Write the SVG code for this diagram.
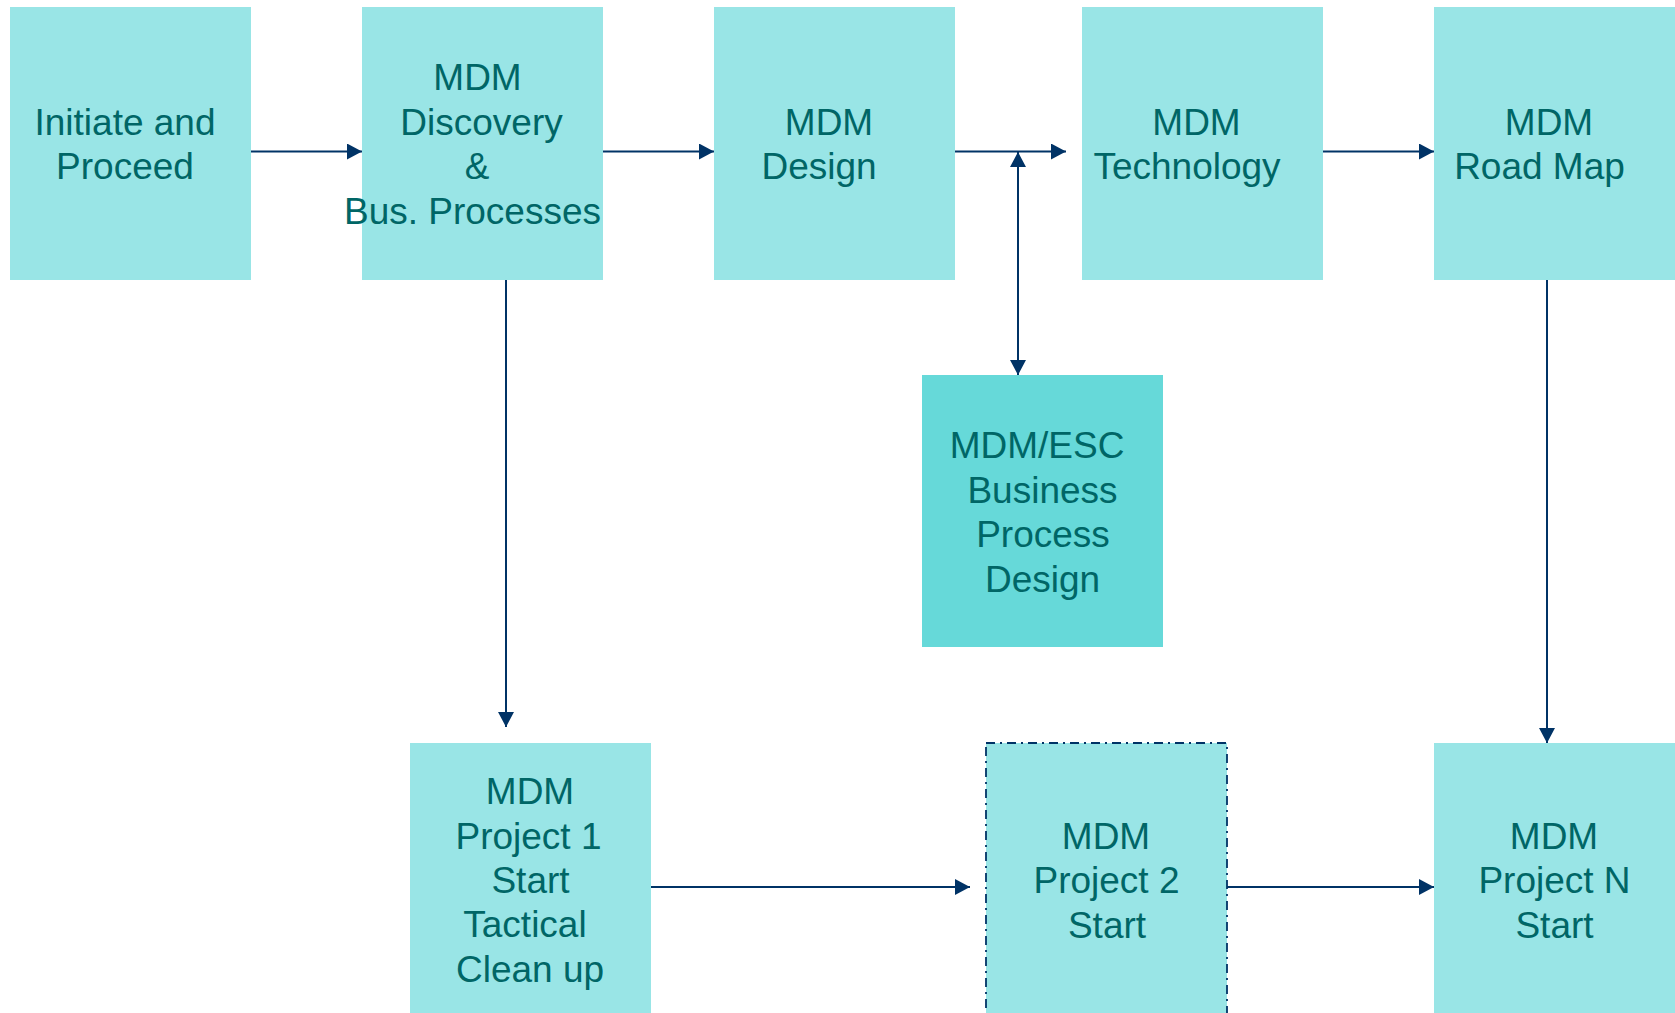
<svg xmlns="http://www.w3.org/2000/svg" width="1675" height="1013" viewBox="0 0 1675 1013">
<style>
.box{fill:#99E5E6;}
.esc{fill:#66D9D9;}
.dash{fill:#99E5E6;stroke:#003366;stroke-width:1.8;stroke-dasharray:9 5 2 5;}
text{font-family:"Liberation Sans",Arial,sans-serif;font-size:37px;fill:#006666;text-anchor:middle;}
.c{stroke:#003366;stroke-width:2;fill:none;}
</style>
<defs>
<marker id="ah" markerUnits="userSpaceOnUse" markerWidth="16" markerHeight="16" refX="15" refY="8" orient="auto-start-reverse" viewBox="0 0 16 16">
<path d="M0,0 L15,8 L0,16 Z" fill="#003366"/>
</marker>
</defs>
<rect width="1675" height="1013" fill="#FFFFFF"/>
<g id="n1"><rect class="box" x="10" y="7" width="241" height="273"/>
<text x="125" y="135">Initiate and</text><text x="125" y="179">Proceed</text></g>
<g id="n2"><rect class="box" x="362" y="7" width="241" height="273"/>
<text x="477.5" y="90">MDM</text><text x="481.5" y="134.5">Discovery</text><text x="477" y="179">&amp;</text><text x="472.5" y="223.5">Bus. Processes</text></g>
<g id="n3"><rect class="box" x="714" y="7" width="241" height="273"/>
<text x="829" y="135">MDM</text><text x="819" y="179">Design</text></g>
<g id="n4"><rect class="box" x="1082" y="7" width="241" height="273"/>
<text x="1196.5" y="135">MDM</text><text x="1187" y="179">Technology</text></g>
<g id="n5"><rect class="box" x="1434" y="7" width="241" height="273"/>
<text x="1549" y="135">MDM</text><text x="1539.5" y="179">Road Map</text></g>
<g id="n6"><rect class="esc" x="922" y="375" width="241" height="272"/>
<text x="1037" y="458">MDM/ESC</text><text x="1042.5" y="502.5">Business</text><text x="1043" y="547">Process</text><text x="1042.5" y="591.5">Design</text></g>
<g id="n7"><rect class="box" x="410" y="743" width="241" height="280"/>
<text x="530" y="804">MDM</text><text x="528.5" y="849">Project 1</text><text x="530.5" y="892.5">Start</text><text x="525" y="937">Tactical</text><text x="530" y="981.5">Clean up</text></g>
<g id="n8"><rect class="dash" x="986" y="743" width="241" height="280"/>
<text x="1106" y="848.5">MDM</text><text x="1106.5" y="893">Project 2</text><text x="1107" y="937.5">Start</text></g>
<g id="n9"><rect class="box" x="1434" y="743" width="241" height="280"/>
<text x="1554" y="848.5">MDM</text><text x="1554.5" y="893">Project N</text><text x="1554.5" y="938">Start</text></g>
<g id="connectors">
<line class="c" x1="251" y1="151.5" x2="362" y2="151.5" marker-end="url(#ah)"/>
<line class="c" x1="603" y1="151.5" x2="714" y2="151.5" marker-end="url(#ah)"/>
<line class="c" x1="955" y1="151.5" x2="1066" y2="151.5" marker-end="url(#ah)"/>
<line class="c" x1="1323" y1="151.5" x2="1434" y2="151.5" marker-end="url(#ah)"/>
<line class="c" x1="1018" y1="152" x2="1018" y2="375" marker-start="url(#ah)" marker-end="url(#ah)"/>
<line class="c" x1="506" y1="280" x2="506" y2="727" marker-end="url(#ah)"/>
<line class="c" x1="1547" y1="280" x2="1547" y2="743" marker-end="url(#ah)"/>
<line class="c" x1="651" y1="887" x2="970" y2="887" marker-end="url(#ah)"/>
<line class="c" x1="1227" y1="887" x2="1434" y2="887" marker-end="url(#ah)"/>
</g>
</svg>
